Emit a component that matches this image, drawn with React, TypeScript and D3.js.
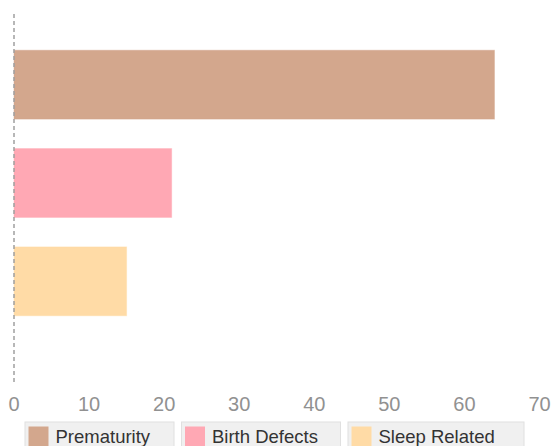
import React, { useEffect, useRef } from "react";
import * as d3 from "d3";

const categories = ["Prematurity", "Birth Defects", "Sleep Related"];
const values = [64, 21, 15];
const colors = ["#d3a78d", "#ffa8b4", "#ffdba6"];
const xTicks = [0, 10, 20, 30, 40, 50, 60, 70];

const W = 552;
const H = 446;
const legendWidths = [149, 159, 176];

export default function App() {
  const ref = useRef<SVGSVGElement | null>(null);

  useEffect(() => {
    const svg = d3.select(ref.current);
    svg.selectAll("*").remove();

    const x = d3.scaleLinear().domain([0, 70]).range([14, 539.5]);
    const y = d3
      .scaleBand<string>()
      .domain(categories)
      .range([35.5, 330.5])
      .paddingInner(0.3)
      .paddingOuter(0.15);

    svg
      .append("g")
      .selectAll("rect")
      .data(categories)
      .join("rect")
      .attr("x", x(0))
      .attr("y", (d) => y(d)!)
      .attr("width", (d, i) => x(values[i]) - x(0))
      .attr("height", y.bandwidth())
      .attr("fill", (d, i) => colors[i])
      .attr("stroke", (d, i) => colors[i])
      .attr("stroke-opacity", 0.45)
      .attr("stroke-width", 1);

    svg
      .append("line")
      .attr("x1", x(0))
      .attr("x2", x(0))
      .attr("y1", 14)
      .attr("y2", 382)
      .attr("stroke", "#a0a0a0")
      .attr("stroke-width", 1.5)
      .attr("stroke-dasharray", "4,3");

    svg
      .append("g")
      .selectAll("text")
      .data(xTicks)
      .join("text")
      .attr("x", (d) => x(d))
      .attr("y", 411)
      .attr("text-anchor", "middle")
      .attr("font-family", "Liberation Sans, Arial, sans-serif")
      .attr("font-size", 20)
      .attr("fill", "#919191")
      .text((d) => String(d));

    const lg = svg.append("g");
    let cx = 25;
    categories.forEach((c, i) => {
      const g = lg.append("g");
      const bw = legendWidths[i];
      g.append("rect")
        .attr("x", cx)
        .attr("y", 422)
        .attr("width", bw)
        .attr("height", 40)
        .attr("fill", "#f0f0f0")
        .attr("stroke", "#e0e0e0")
        .attr("stroke-width", 1);
      g.append("rect")
        .attr("x", cx + 3.5)
        .attr("y", 426.5)
        .attr("width", 20)
        .attr("height", 22)
        .attr("fill", colors[i]);
      g.append("text")
        .attr("x", cx + 30.5)
        .attr("y", 443)
        .attr("font-family", "Liberation Sans, Arial, sans-serif")
        .attr("font-size", 18.5)
        .attr("fill", "#333333")
        .text(c);
      cx += bw + 7.5;
    });
  }, []);

  return (
    <svg
      ref={ref}
      width={W}
      height={H}
      style={{ position: "absolute", left: 0, top: 0, background: "#ffffff" }}
    />
  );
}
